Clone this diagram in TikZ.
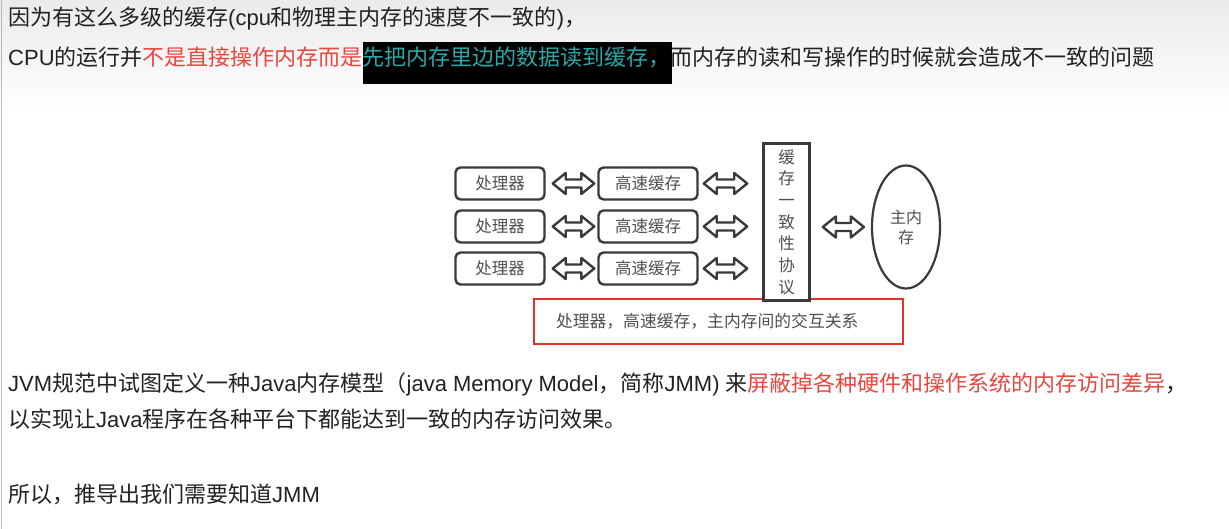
\documentclass[tikz,border=0pt]{standalone}
\usepackage{fontspec}
\setmainfont{Noto Sans CJK SC}
\newfontfamily\lat{Liberation Sans}
\usetikzlibrary{shapes.geometric,calc}
\definecolor{txt}{HTML}{222222}
\definecolor{hlred}{HTML}{E8473F}
\definecolor{hlteal}{HTML}{2AA8A8}
\definecolor{boxline}{HTML}{3A3A3A}
\definecolor{boxtxt}{HTML}{505050}
\definecolor{redframe}{HTML}{E53228}
\tikzset{
  para/.style={anchor=base west, inner sep=0pt, text=txt, font=\fontsize{22}{26}\selectfont},
  unitbox/.style={draw=boxline, line width=2.4pt, rounded corners=5pt, minimum height=32,
    inner sep=0pt, text=boxtxt, font=\fontsize{16.5}{20}\selectfont},
  vbox/.style={draw=boxline, line width=2.6pt, minimum width=46, minimum height=157,
    inner sep=0pt, align=center, text=boxtxt, font=\fontsize{16.5}{21.7}\selectfont},
  memnode/.style={ellipse, draw=boxline, line width=2.2pt, minimum width=68, minimum height=123,
    inner sep=0pt, align=center, text=boxtxt, font=\fontsize{16}{20}\selectfont},
  redbox/.style={draw=redframe, line width=2pt, minimum height=45, inner xsep=22pt, inner ysep=0pt,
    text width=325pt, align=left, text=boxtxt, font=\fontsize{16.8}{20}\selectfont},
  dblarr/.style={draw=boxline, line width=2.4pt, fill=white, line join=round}
}
\newcommand\dblarrow[4]{%
  \draw[dblarr] let \p1=(#1), \p2=(#2) in
    (\x1+#3,\y1) -- (\x1+#3+13,\y1+10.5) -- (\x1+#3+13,\y1+4) -- (\x2-#4-13,\y1+4)
    -- (\x2-#4-13,\y1+10.5) -- (\x2-#4,\y1) -- (\x2-#4-13,\y1-10.5) -- (\x2-#4-13,\y1-4)
    -- (\x1+#3+13,\y1-4) -- (\x1+#3+13,\y1-10.5) -- cycle;}
\begin{document}
\begin{tikzpicture}[x=1pt,y=-1pt]
\useasboundingbox (0,0) rectangle (1229,529);
\fill[white] (0,0) rectangle (1229,529);
\shade[top color=black!8, bottom color=white] (0,0) rectangle (1229,110);
\draw[gray!55, line width=1.2pt] (1.2,0) -- (1.2,529);
\fill[black] (363,42) rectangle (672,84);

\node[para] (l1) at (8,26) {因为有这么多级的缓存{\lat (cpu}和物理主内存的速度不一致的{\lat )}，};
\node[para] (l2) at (8,66) {{\lat CPU}的运行并\textcolor{hlred}{不是直接操作内存而是}\textcolor{hlteal}{先把内存里边的数据读到缓存，}而内存的读和写操作的时候就会造成不一致的问题};
\node[para] (l4) at (8,391) {{\lat JVM}规范中试图定义一种{\lat Java}内存模型（{\lat java Memory Model}，简称{\lat JMM) }来\textcolor{hlred}{屏蔽掉各种硬件和操作系统的内存访问差异}，};
\node[para] (l5) at (8,427) {以实现让{\lat Java}程序在各种平台下都能达到一致的内存访问效果。};
\node[para] (l6) at (8,502) {所以，推导出我们需要知道{\lat JMM}};

\foreach \i/\yy in {1/183.5,2/226.5,3/268.5} {
  \node[unitbox, minimum width=89] (p\i) at (500,\yy) {处理器};
  \node[unitbox, minimum width=99] (c\i) at (648,\yy) {高速缓存};
}
\node[redbox, anchor=north west] (r) at (533,298) {处理器，高速缓存，主内存间的交互关系};
\node[vbox, fill=white] (v) at (786.5,222) {缓\\存\\一\\致\\性\\协\\议};
\node[memnode] (m) at (906,227) {主内\\存};

\foreach \i in {1,2,3} {
  \dblarrow{p\i.east}{c\i.west}{7}{3}
  \dblarrow{c\i.east}{v.west}{5}{15}
}
\dblarrow{v.east |- m.center}{m.west}{12}{7}
\end{tikzpicture}
\end{document}
